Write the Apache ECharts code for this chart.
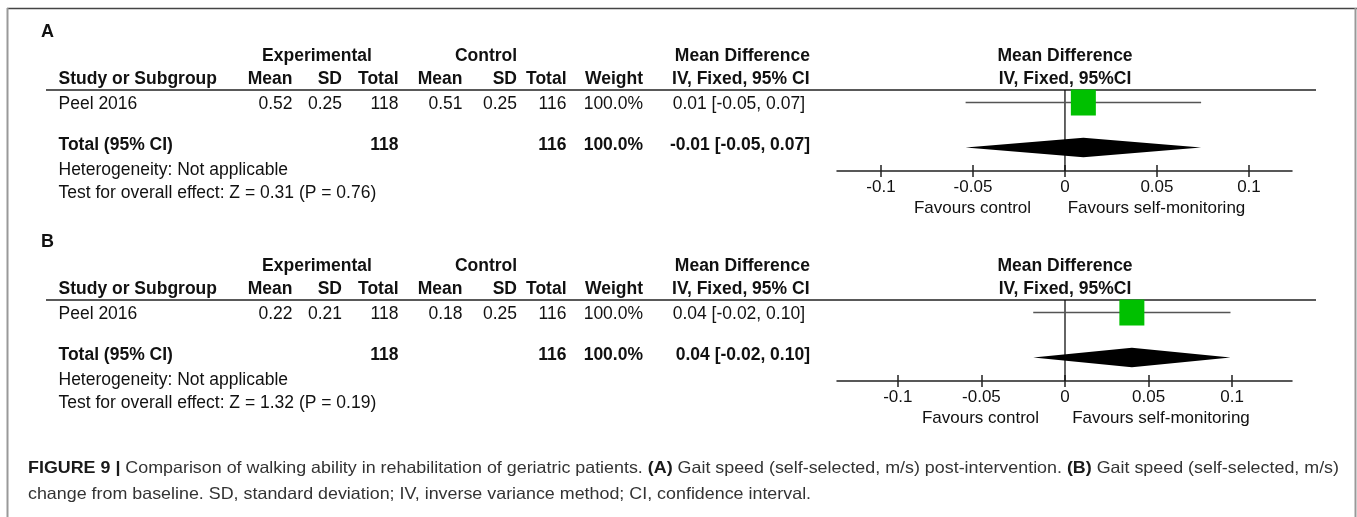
<!DOCTYPE html>
<html><head><meta charset="utf-8">
<script src="https://cdn.jsdelivr.net/npm/echarts@6/dist/echarts.min.js"></script>
<style>html,body{margin:0;padding:0;background:#fff;}#chart{width:1357px;height:517px;}</style>
</head><body><div id="chart"></div>
<script>
// ---------------- data ----------------
const panelLabels = ['A', 'B'];
const studyNames = ['Peel 2016', 'Peel 2016'];
const expMean = [0.52, 0.22];
const expSD = [0.25, 0.21];
const expTotal = [118, 118];
const ctlMean = [0.51, 0.18];
const ctlSD = [0.25, 0.25];
const ctlTotal = [116, 116];
const studyWeight = ['100.0%', '100.0%'];
const studyEffectText = ['0.01 [-0.05, 0.07]', '0.04 [-0.02, 0.10]'];
const totalWeight = ['100.0%', '100.0%'];
const totalEffectText = ['-0.01 [-0.05, 0.07]', '0.04 [-0.02, 0.10]'];
const studyMD = [0.01, 0.04];
const studyLow = [-0.054, -0.019];
const studyHigh = [0.074, 0.099];
const pooledMD = [0.01, 0.04];
const pooledLow = [-0.054, -0.019];
const pooledHigh = [0.074, 0.099];
const heterogeneityText = ['Heterogeneity: Not applicable', 'Heterogeneity: Not applicable'];
const overallEffectText = ['Test for overall effect: Z = 0.31 (P = 0.76)', 'Test for overall effect: Z = 1.32 (P = 0.19)'];
const groupHeaders = ['Experimental', 'Control', 'Mean Difference'];
const columnHeaders = ['Mean', 'SD', 'Total', 'Mean', 'SD', 'Total', 'Weight', 'IV, Fixed, 95% CI'];
const plotHeaders = ['Mean Difference', 'IV, Fixed, 95%CI'];
const favourLabels = ['Favours control', 'Favours self-monitoring'];
const tickValues = [-0.1, -0.05, 0, 0.05, 0.1];
const tickLabels = ['-0.1', '-0.05', '0', '0.05', '0.1'];
const captionLine1 = [
  { t: 'FIGURE 9 | ', b: true },
  { t: 'Comparison of walking ability in rehabilitation of geriatric patients. ', b: false },
  { t: '(A)', b: true },
  { t: ' Gait speed (self-selected, m/s) post-intervention. ', b: false },
  { t: '(B)', b: true },
  { t: ' Gait speed (self-selected, m/s)', b: false }
];
const captionLine2 = 'change from baseline. SD, standard deviation; IV, inverse variance method; CI, confidence interval.';

// ---------------- layout ----------------
const FONT = '"Liberation Sans", Arial, Helvetica, sans-serif';
const TXT = '#111';
const FS = 17.5;
const PFS = 17;
const OFF = [0, 210];
const AXR = [[-0.1239, 0.1234], [-0.1364, 0.1358]];
const colX = [292.5, 342, 398.5, 462.5, 517, 566.5, 643, 809.5];
const favX = [[972.5, 1156.5], [980.5, 1161]];

const g = [];
function txt(x, y, text, o) {
  o = o || {};
  const a = o.a || 'left';
  g.push({ type: 'text', x: x, y: y, silent: true, style: {
    text: text, fontSize: o.fs || FS, fontFamily: FONT, fontWeight: o.b ? 'bold' : 'normal',
    fill: o.c || TXT, align: a, textAlign: a, verticalAlign: 'middle', textVerticalAlign: 'middle' } });
}
function line(x1, y1, x2, y2, c, w) {
  g.push({ type: 'line', silent: true, shape: { x1: x1, y1: y1, x2: x2, y2: y2 }, style: { stroke: c, lineWidth: w } });
}

// outer frame
line(7, 8.5, 1357, 8.5, '#444', 1.5);
line(7.5, 8, 7.5, 517, '#999', 2);
line(1355.5, 8, 1355.5, 517, '#999', 2);

[0, 1].forEach(p => {
  const o = OFF[p];
  txt(41, 32.5 + o, panelLabels[p], { b: true, fs: 18 });
  txt(317, 56.5 + o, groupHeaders[0], { b: true, a: 'center' });
  txt(486, 56.5 + o, groupHeaders[1], { b: true, a: 'center' });
  txt(810, 56.5 + o, groupHeaders[2], { b: true, a: 'right' });
  txt(1065, 56.5 + o, plotHeaders[0], { b: true, a: 'center' });
  txt(58.5, 79.5 + o, 'Study or Subgroup', { b: true });
  columnHeaders.forEach((h, i) => txt(colX[i], 79.5 + o, h, { b: true, a: 'right' }));
  txt(1065, 79.5 + o, plotHeaders[1], { b: true, a: 'center' });
  line(46, 90 + o, 1316, 90 + o, '#222', 1.5);
  // study row
  txt(58.5, 104 + o, studyNames[p]);
  const vals = [expMean[p].toFixed(2), expSD[p].toFixed(2), String(expTotal[p]),
    ctlMean[p].toFixed(2), ctlSD[p].toFixed(2), String(ctlTotal[p]), studyWeight[p]];
  vals.forEach((v, i) => txt(colX[i], 104 + o, v, { a: 'right' }));
  txt(805, 104 + o, studyEffectText[p], { a: 'right' });
  // total row
  txt(58.5, 145.5 + o, 'Total (95% CI)', { b: true });
  txt(colX[2], 145.5 + o, String(expTotal[p]), { b: true, a: 'right' });
  txt(colX[5], 145.5 + o, String(ctlTotal[p]), { b: true, a: 'right' });
  txt(colX[6], 145.5 + o, totalWeight[p], { b: true, a: 'right' });
  txt(810, 145.5 + o, totalEffectText[p], { b: true, a: 'right' });
  txt(58.5, 170.5 + o, heterogeneityText[p]);
  txt(58.5, 193.5 + o, overallEffectText[p]);
  // favours
  txt(favX[p][0], 208 + o, favourLabels[0], { a: 'center', fs: PFS });
  txt(favX[p][1], 208 + o, favourLabels[1], { a: 'center', fs: PFS });
});

// caption
(function () {
  const CFS = 16.5;
  const ctx = document.createElement('canvas').getContext('2d');
  let w = 0;
  captionLine1.forEach(part => { ctx.font = (part.b ? 'bold ' : '') + CFS + 'px "Liberation Sans"'; w += ctx.measureText(part.t).width; });
  const target = 1339 - 28;
  const s = target / w;
  const richText = captionLine1.map(part => '{' + (part.b ? 'b' : 'n') + '|' + part.t + '}').join('');
  const rich = {
    b: { fontWeight: 'bold', fontSize: CFS, fontFamily: FONT, fill: '#1a1a1a' },
    n: { fontWeight: 'normal', fontSize: CFS, fontFamily: FONT, fill: '#333' }
  };
  g.push({ type: 'text', x: 28, y: 468, scaleX: s, silent: true, style: { text: richText, rich: rich, x: 0, y: 0,
    fontSize: CFS, fontFamily: FONT, align: 'left', textAlign: 'left', verticalAlign: 'middle', textVerticalAlign: 'middle' } });
  g.push({ type: 'text', x: 28, y: 494, scaleX: s, silent: true, style: { text: captionLine2, x: 0, y: 0,
    fontSize: CFS, fontFamily: FONT, fill: '#333', align: 'left', textAlign: 'left', verticalAlign: 'middle', textVerticalAlign: 'middle' } });
})();

function labelFor(v) {
  for (let i = 0; i < tickValues.length; i++) if (Math.abs(tickValues[i] - v) < 1e-9) return tickLabels[i];
  return '';
}

const xAxis = [], yAxis = [], grid = [], series = [];
[0, 1].forEach(p => {
  grid.push({ left: 837, width: 455, top: 90 + OFF[p], height: 81 });
  const base = { type: 'value', gridIndex: p, min: AXR[p][0], max: AXR[p][1], position: 'bottom', splitLine: { show: false } };
  xAxis.push(Object.assign({}, base, {
    axisLine: { show: true, onZero: false, lineStyle: { color: '#222', width: 1.5 } },
    axisTick: { show: true, customValues: tickValues, length: 6, lineStyle: { color: '#222', width: 1.5 } },
    axisLabel: { show: true, customValues: tickValues, margin: 8, fontSize: PFS, fontFamily: FONT, color: TXT, formatter: labelFor }
  }));
  xAxis.push(Object.assign({}, base, {
    axisLine: { show: false, onZero: false },
    axisTick: { show: true, inside: true, customValues: tickValues, length: 6, lineStyle: { color: '#222', width: 1.5 } },
    axisLabel: { show: false }
  }));
  yAxis.push({ type: 'value', gridIndex: p, inverse: true, min: -0.278, max: 1.522, show: false,
    axisLine: { onZero: false }, splitLine: { show: false } });

  series.push({ type: 'custom', xAxisIndex: 2 * p, yAxisIndex: p, silent: true, clip: false, z: 1,
    data: [[0, 0]],
    renderItem: function (params, api) {
      const cs = params.coordSys;
      const x = api.coord([api.value(0), 0])[0];
      return { type: 'line', shape: { x1: x, y1: cs.y, x2: x, y2: cs.y + cs.height }, style: { stroke: '#111', lineWidth: 1.3 } };
    } });
  series.push({ type: 'custom', xAxisIndex: 2 * p, yAxisIndex: p, silent: true, clip: false, z: 2,
    encode: { x: [0, 1, 2], y: 3 },
    data: [[studyMD[p], studyLow[p], studyHigh[p], 0]],
    renderItem: function (params, api) {
      const row = api.value(3);
      const pL = api.coord([api.value(1), row]), pH = api.coord([api.value(2), row]), pM = api.coord([api.value(0), row]);
      return { type: 'group', children: [
        { type: 'line', shape: { x1: pL[0], y1: pL[1], x2: pH[0], y2: pH[1] }, style: { stroke: '#555', lineWidth: 1.6 } },
        { type: 'rect', shape: { x: pM[0] - 12.5, y: pM[1] - 13, width: 25, height: 26 }, style: { fill: '#00c000' } }
      ] };
    } });
  series.push({ type: 'custom', xAxisIndex: 2 * p, yAxisIndex: p, silent: true, clip: false, z: 2,
    encode: { x: [0, 1, 2], y: 3 },
    data: [[pooledMD[p], pooledLow[p], pooledHigh[p], 1]],
    renderItem: function (params, api) {
      const row = api.value(3);
      const pL = api.coord([api.value(1), row]), pH = api.coord([api.value(2), row]), pM = api.coord([api.value(0), row]);
      const h = 9.7;
      return { type: 'polygon', shape: { points: [[pL[0], pM[1]], [pM[0], pM[1] - h], [pH[0], pM[1]], [pM[0], pM[1] + h]] },
        style: { fill: '#000' } };
    } });
});

const chart = echarts.init(document.getElementById('chart'), null, { renderer: 'canvas' });
chart.setOption({ animation: false, backgroundColor: '#fff', grid: grid, xAxis: xAxis, yAxis: yAxis, series: series, graphic: { elements: g } });
</script>
</body></html>
